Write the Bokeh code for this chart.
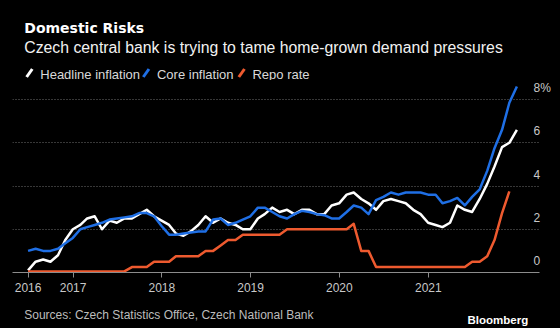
import pandas as pd
from datetime import datetime
from bokeh.plotting import figure
from bokeh.models import Range1d, LinearAxis, FixedTicker, Label, Grid
from bokeh.layouts import column
from bokeh.embed import file_html
from bokeh.resources import INLINE

# ---------------- data ----------------
months = pd.period_range("2016-06", "2021-12", freq="M").to_timestamp(how="end").normalize()

headline = [0.1, 0.5, 0.6, 0.5, 0.8, 1.5, 2.0,
            2.2, 2.5, 2.6, 2.0, 2.4, 2.3, 2.5, 2.5, 2.7, 2.9, 2.6, 2.4,
            2.2, 1.8, 1.7, 1.9, 2.2, 2.6, 2.3, 2.5, 2.3, 2.2, 2.0, 2.0,
            2.5, 2.7, 3.0, 2.8, 2.9, 2.7, 2.9, 2.9, 2.7, 2.7, 3.1, 3.2,
            3.6, 3.7, 3.4, 3.2, 2.9, 3.3, 3.4, 3.3, 3.2, 2.9, 2.7, 2.3,
            2.2, 2.1, 2.3, 3.1, 2.9, 2.8, 3.4, 4.1, 4.9, 5.8, 6.0, 6.6]

core = [1.0, 1.1, 1.0, 1.0, 1.1, 1.35, 1.6,
        2.0, 2.1, 2.2, 2.3, 2.45, 2.5, 2.55, 2.6, 2.75, 2.75, 2.6, 2.15,
        1.75, 1.75, 1.8, 1.85, 1.9, 1.9, 2.45, 2.5, 2.2, 2.3, 2.45, 2.6,
        3.0, 3.0, 2.8, 2.6, 2.5, 2.7, 2.85, 2.8, 2.7, 2.65, 2.5, 2.5,
        2.8, 3.1, 3.0, 2.7, 3.35, 3.5, 3.7, 3.6, 3.7, 3.7, 3.7, 3.6,
        3.6, 3.2, 3.3, 3.45, 3.1, 3.5, 3.85, 4.7, 5.75, 6.6, 7.85, 8.6]

repo = [0.05] * 14 + [0.25] * 3 + [0.5] * 3 + [0.75] * 4 + [1.0] * 2 + [1.25] + [1.5] * 2 \
     + [1.75] * 6 + [2.0] * 9 + [2.25] + [1.0] * 2 + [0.25] * 13 + [0.5] * 2 + [0.75] \
     + [1.5] + [2.75] + [3.75]
repo_dates = months[:len(repo)]

x_tick_dates = [datetime(2016, 6, 30), datetime(2017, 1, 1), datetime(2018, 1, 1),
                datetime(2019, 1, 1), datetime(2020, 1, 1), datetime(2021, 1, 1)]
x_tick_labels = ["2016", "2017", "2018", "2019", "2020", "2021"]
y_ticks = [0, 2, 4, 6, 8]
y_tick_labels = ["0", "2", "4", "6", "8%"]

series_names = ["Headline inflation", "Core inflation", "Repo rate"]

# ---------------- style ----------------
BG = "#000000"
WHITE = "#ffffff"
BLUE = "#1f6fe5"
RED = "#ee5a2f"
colors = [WHITE, BLUE, RED]
FONT = "Liberation Sans"

def blank(h):
    f = figure(width=560, height=h, x_range=Range1d(0, 560), y_range=Range1d(h, 0),
               x_axis_location=None, y_axis_location=None, toolbar_location=None,
               output_backend="svg", min_border=0,
               background_fill_color=BG, border_fill_color=BG, outline_line_color=None)
    for g in f.grid:
        g.visible = False
    return f

# ---------------- header ----------------
head = blank(80)
head.add_layout(Label(x=12.5, y=27.5, text="Domestic Risks", text_font="DejaVu Sans",
                      text_font_style="bold", text_font_size="14px", text_color=WHITE,
                      text_baseline="alphabetic"))
head.add_layout(Label(x=12.5, y=46.5, text="Czech central bank is trying to tame home-grown demand pressures",
                      text_font=FONT, text_font_size="15.8px", text_color="#f2f2f2",
                      text_baseline="alphabetic"))
legend_x = [29.5, 153.5, 255]
for name, col, tx in zip(series_names, colors, legend_x):
    head.segment(x0=tx - 14.5, y0=76.5, x1=tx - 8.5, y1=68.5, line_color=col, line_width=3)
    head.add_layout(Label(x=tx, y=73.5, text=name, text_font=FONT, text_font_size="13px",
                          text_color="#d9d9d9", text_baseline="alphabetic"))

# ---------------- main chart ----------------
p = figure(width=560, height=220, x_axis_type="datetime",
           x_range=Range1d(datetime(2016, 4, 27), datetime(2022, 4, 3)),
           y_range=Range1d(0, 8.696), y_axis_location=None,
           toolbar_location=None, output_backend="svg",
           min_border_left=12, min_border_right=21, min_border_top=4, min_border_bottom=28,
           background_fill_color=BG, border_fill_color=BG, outline_line_color=None)
for g in p.grid:
    g.visible = False
p.add_layout(Grid(dimension=1, ticker=FixedTicker(ticks=y_ticks[1:]),
                  grid_line_color="#6e6e6e", grid_line_dash="1 2", grid_line_width=1))

tick_ms = [pd.Timestamp(d).value / 1e6 for d in x_tick_dates]
xa = p.xaxis[0]
xa.ticker = FixedTicker(ticks=tick_ms)
xa.major_label_overrides = dict(zip(tick_ms, x_tick_labels))
xa.axis_line_color = "#8c8c8c"
xa.major_tick_line_color = "#8c8c8c"
xa.major_tick_out = 5
xa.major_tick_in = 0
xa.minor_tick_line_color = None
xa.major_label_text_color = "#c8c8c8"
xa.major_label_text_font = FONT
xa.major_label_text_font_size = "12px"

p.extra_y_ranges = {"lab": Range1d(0 - 0.532, 8.696 - 0.532)}
ya = LinearAxis(y_range_name="lab", ticker=FixedTicker(ticks=y_ticks),
                major_label_overrides=dict(zip(y_ticks, y_tick_labels)),
                axis_line_color=None, major_tick_line_color=None, minor_tick_line_color=None,
                major_tick_out=0, major_tick_in=0, major_label_standoff=-6,
                major_label_text_color="#c8c8c8", major_label_text_font=FONT,
                major_label_text_font_size="12px")
p.add_layout(ya, "right")

p.line(months, headline, line_color=WHITE, line_width=2.5, line_join="round")
p.line(months, core, line_color=BLUE, line_width=2.5, line_join="round")
p.line(repo_dates, repo, line_color=RED, line_width=2.5, line_join="round")

# ---------------- footer ----------------
foot = blank(28)
foot.add_layout(Label(x=12.5, y=14.5, text="Sources: Czech Statistics Office, Czech National Bank",
                      text_font=FONT, text_font_size="12px", text_color="#bdbdbd",
                      text_baseline="alphabetic"))
foot.add_layout(Label(x=548, y=19.5, text="Bloomberg", text_font=FONT, text_font_style="bold",
                      text_font_size="11.5px", text_color=WHITE, text_align="right",
                      text_baseline="alphabetic"))

layout = column(head, p, foot, spacing=0)
html = file_html(layout, INLINE)
html = html.replace("</head>", "<style>html, body { background: #000000; margin: 0; }</style></head>", 1)
open("out.html", "w").write(html)
